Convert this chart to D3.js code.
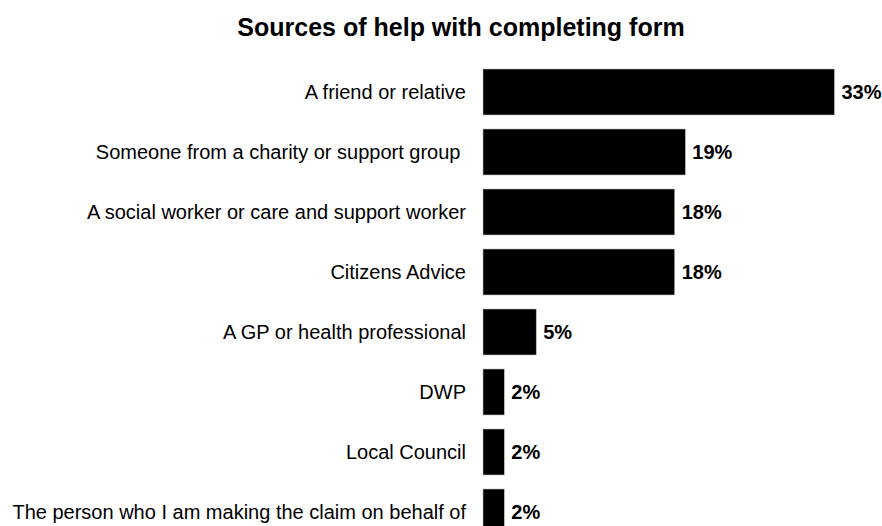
<!DOCTYPE html>
<html>
<head>
<meta charset="utf-8">
<script src="https://cdn.jsdelivr.net/npm/d3@7"></script>
<style>
  html, body { margin: 0; padding: 0; background: #fff; }
  svg { display: block; font-family: "Liberation Sans", Arial, sans-serif; }
</style>
</head>
<body>
<svg id="chart" width="882" height="526"></svg>
<script>
const categories = [
  "A friend or relative",
  "Someone from a charity or support group ",
  "A social worker or care and support worker",
  "Citizens Advice",
  "A GP or health professional",
  "DWP",
  "Local Council",
  "The person who I am making the claim on behalf of"
];
const values = [33, 19, 18, 18, 5, 2, 2, 2];
const chartTitle = "Sources of help with completing form";

const svg = d3.select("#chart");

const x = d3.scaleLinear().domain([0, 35]).range([483, 483 + 35 * 10.65]);
const y = d3.scaleBand()
  .domain(categories)
  .range([62, 542])
  .paddingInner(14 / 60)
  .paddingOuter(7 / 60);

svg.append("text")
  .attr("x", 461)
  .attr("y", 36)
  .attr("text-anchor", "middle")
  .style("font-size", "25px")
  .style("font-weight", "bold")
  .text(chartTitle);

const rows = svg.append("g").selectAll("g")
  .data(categories.map((c, i) => ({ cat: c, val: values[i] })))
  .join("g");

rows.append("rect")
  .attr("x", x(0))
  .attr("y", d => y(d.cat))
  .attr("width", d => x(d.val) - x(0))
  .attr("height", y.bandwidth())
  .attr("fill", "#000")
  .attr("stroke", "#bbb")
  .attr("stroke-width", 0.6);

rows.append("text")
  .attr("x", 466)
  .attr("y", d => y(d.cat) + y.bandwidth() / 2)
  .attr("dy", "0.35em")
  .attr("text-anchor", "end")
  .attr("xml:space", "preserve")
  .style("white-space", "pre")
  .style("font-size", "20px")
  .text(d => d.cat);

rows.append("text")
  .attr("x", d => x(d.val) + 7)
  .attr("y", d => y(d.cat) + y.bandwidth() / 2)
  .attr("dy", "0.35em")
  .style("font-size", "20px")
  .style("font-weight", "bold")
  .text(d => d.val + "%");
</script>
</body>
</html>
